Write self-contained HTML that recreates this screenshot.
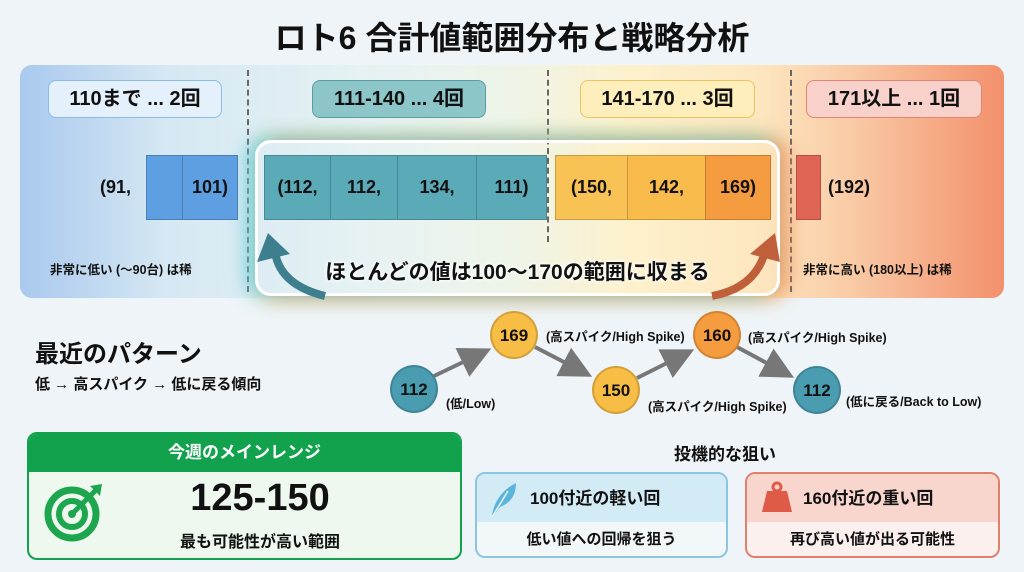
<!DOCTYPE html>
<html><head><meta charset="utf-8">
<style>
*{margin:0;padding:0;box-sizing:border-box}
body{width:1024px;height:572px;background:#eef4f8;font-family:"Liberation Sans","Noto Sans CJK JP",sans-serif;position:relative;overflow:hidden;color:#111}
.a{position:absolute}
.b{font-weight:bold}
.title{left:0;width:1024px;top:13px;text-align:center;font-size:32px;font-weight:bold;letter-spacing:0px}
.panel{left:20px;top:65px;width:984px;height:233px;border-radius:12px;background:linear-gradient(90deg,#a9c9ee 0%,#d6e8f3 15%,#e6f2f3 35%,#eef4e8 50%,#fdf1cc 62%,#fde7c0 75%,#f9c9a4 85%,#f3906c 100%)}
.dash{border-left:2px dashed #666;width:0}
.lab{height:38px;border-radius:8px;font-size:20px;font-weight:bold;text-align:center;line-height:36px;top:80px}
.bar{top:155px;height:65px;border:1px solid rgba(0,0,0,.2);font-size:18px;font-weight:bold;text-align:center;line-height:63px}
.t19{font-size:18px;font-weight:bold}
.node{width:48px;height:48px;border-radius:50%;font-size:17px;font-weight:bold;text-align:center;line-height:46px;border:2px solid rgba(0,0,0,.15)}
.nl{font-size:12.5px;font-weight:bold}
</style></head><body>
<div class="a title">ロト6 合計値範囲分布と戦略分析</div>
<div class="a panel"></div>
<div class="a dash" style="left:247px;top:70px;height:222px"></div>
<div class="a dash" style="left:547px;top:70px;height:172px"></div>
<div class="a dash" style="left:790px;top:70px;height:222px"></div>

<div class="a lab" style="left:48px;width:174px;background:#e4f0fb;border:1.5px solid #8cbce4">110まで ... 2回</div>
<div class="a lab" style="left:312px;width:174px;background:#8cc6c8;border:1.5px solid #5a9ea4">111-140 ... 4回</div>
<div class="a lab" style="left:580px;width:175px;background:#fdeebb;border:1.5px solid #e8c464">141-170 ... 3回</div>
<div class="a lab" style="left:806px;width:176px;background:#f8d2ca;border:1.5px solid #e28474">171以上 ... 1回</div>

<div class="a" style="left:255px;top:140px;width:525px;height:156px;border:3px solid #fff;border-radius:16px;box-shadow:-10px 0 18px rgba(80,200,230,.6),10px 0 18px rgba(245,130,80,.6),0 -8px 16px rgba(150,220,150,.4),0 8px 16px rgba(240,200,100,.4)"></div>

<div class="a t19" style="left:100px;top:177px">(91,</div>
<div class="a bar" style="left:146px;width:37px;background:#5d9fe0"></div>
<div class="a bar" style="left:182px;width:56px;background:#5d9fe0">101)</div>

<div class="a bar" style="left:264px;width:67px;background:#5aaab8">(112,</div>
<div class="a bar" style="left:330px;width:68px;background:#5aaab8">112,</div>
<div class="a bar" style="left:397px;width:80px;background:#5aaab8">134,</div>
<div class="a bar" style="left:476px;width:71px;background:#5aaab8">111)</div>

<div class="a bar" style="left:555px;width:73px;background:#f9c254">(150,</div>
<div class="a bar" style="left:627px;width:79px;background:#f9bc4c">142,</div>
<div class="a bar" style="left:705px;width:66px;background:#f59c40">169)</div>

<div class="a bar" style="left:796px;width:25px;background:#e06454"></div>
<div class="a t19" style="left:828px;top:177px">(192)</div>

<div class="a b" style="left:50px;top:259px;font-size:12.5px">非常に低い (〜90台) は稀</div>
<div class="a b" style="left:803px;top:259px;font-size:12.5px">非常に高い (180以上) は稀</div>
<div class="a b" style="left:255px;width:525px;top:256px;text-align:center;font-size:21px;text-shadow:0 0 4px #fff,0 0 4px #fff">ほとんどの値は100〜170の範囲に収まる</div>

<svg class="a" style="left:0;top:0" width="1024" height="572">
<defs>
<marker id="g" markerWidth="8" markerHeight="8" refX="6" refY="4" orient="auto"><path d="M0,0 L8,4 L0,8 z" fill="#777"/></marker>
</defs>
<path d="M325,296 Q280,285 275,252" fill="none" stroke="#3d7f8f" stroke-width="8"/>
<path d="M257,262 L268,233 L290,254 z" fill="#3d7f8f"/>
<path d="M712,296 Q755,288 765,252" fill="none" stroke="#c0603a" stroke-width="8"/>
<path d="M750,254 L775,233 L780,262 z" fill="#c0603a"/>
<g stroke="#777" stroke-width="4" marker-end="url(#g)">
<line x1="432" y1="377" x2="484" y2="352"/>
<line x1="535" y1="347" x2="585" y2="373"/>
<line x1="637" y1="378" x2="687" y2="353"/>
<line x1="737" y1="347" x2="787" y2="374"/>
</g>
</svg>

<div class="a b" style="left:35px;top:334px;font-size:24px">最近のパターン</div>
<div class="a b" style="left:35px;top:373px;font-size:15px">低 → 高スパイク → 低に戻る傾向</div>

<div class="a node" style="left:390px;top:365px;background:#4a9cb0">112</div>
<div class="a node" style="left:490px;top:311px;background:#f7bd44">169</div>
<div class="a node" style="left:592px;top:366px;background:#f7bd44">150</div>
<div class="a node" style="left:693px;top:311px;background:#f59c3e">160</div>
<div class="a node" style="left:793px;top:366px;background:#4a9cb0">112</div>
<div class="a nl" style="left:446px;top:393px">(低/Low)</div>
<div class="a nl" style="left:546px;top:326px">(高スパイク/High Spike)</div>
<div class="a nl" style="left:648px;top:396px">(高スパイク/High Spike)</div>
<div class="a nl" style="left:748px;top:327px">(高スパイク/High Spike)</div>
<div class="a nl" style="left:846px;top:391px">(低に戻る/Back to Low)</div>

<div class="a" style="left:27px;top:432px;width:435px;height:128px;border:2px solid #12a24e;border-radius:10px;background:#eef8ef;overflow:hidden">
<div style="height:38px;background:#12a24e;color:#fff;font-size:17px;font-weight:bold;text-align:center;line-height:37px">今週のメインレンジ</div>
</div>
<svg class="a" style="left:44px;top:482px" width="64" height="60">
<circle cx="28" cy="32" r="24" fill="none" stroke="#1ea64e" stroke-width="7"/>
<circle cx="28" cy="32" r="13" fill="none" stroke="#1ea64e" stroke-width="6"/>
<circle cx="28" cy="32" r="4" fill="#1ea64e"/>
<line x1="28" y1="32" x2="52" y2="8" stroke="#1ea64e" stroke-width="5"/>
<path d="M46,4 L58,2 L56,14 z" fill="#1ea64e"/>
</svg>
<div class="a b" style="left:140px;width:240px;top:477px;text-align:center;font-size:38px">125-150</div>
<div class="a b" style="left:140px;width:240px;top:528px;text-align:center;font-size:16px">最も可能性が高い範囲</div>

<div class="a b" style="left:610px;width:230px;top:440px;text-align:center;font-size:17px">投機的な狙い</div>

<div class="a" style="left:475px;top:472px;width:253px;height:86px;border:2px solid #8cc6de;border-radius:10px;background:#f2f8fa;overflow:hidden">
<div style="height:48px;background:#d2ebf4"></div>
</div>
<svg class="a" style="left:486px;top:479px" width="36" height="40"><path d="M6,36 Q10,14 30,4 Q30,22 14,28 L8,36 z" fill="#5bb4dc"/><line x1="6" y1="38" x2="22" y2="12" stroke="#e8f6fb" stroke-width="1.5"/></svg>
<div class="a b" style="left:530px;top:484px;font-size:17px">100付近の軽い回</div>
<div class="a b" style="left:475px;width:253px;top:528px;text-align:center;font-size:15px">低い値への回帰を狙う</div>

<div class="a" style="left:745px;top:472px;width:255px;height:86px;border:2px solid #e2806e;border-radius:10px;background:#fbf0ee;overflow:hidden">
<div style="height:48px;background:#f8d6ce"></div>
</div>
<svg class="a" style="left:760px;top:480px" width="34" height="34"><circle cx="17" cy="7" r="4" fill="none" stroke="#e05a48" stroke-width="3"/><path d="M7,11 L27,11 L32,32 L2,32 z" fill="#e05a48"/></svg>
<div class="a b" style="left:803px;top:484px;font-size:17px">160付近の重い回</div>
<div class="a b" style="left:745px;width:255px;top:528px;text-align:center;font-size:15px">再び高い値が出る可能性</div>
</body></html>
